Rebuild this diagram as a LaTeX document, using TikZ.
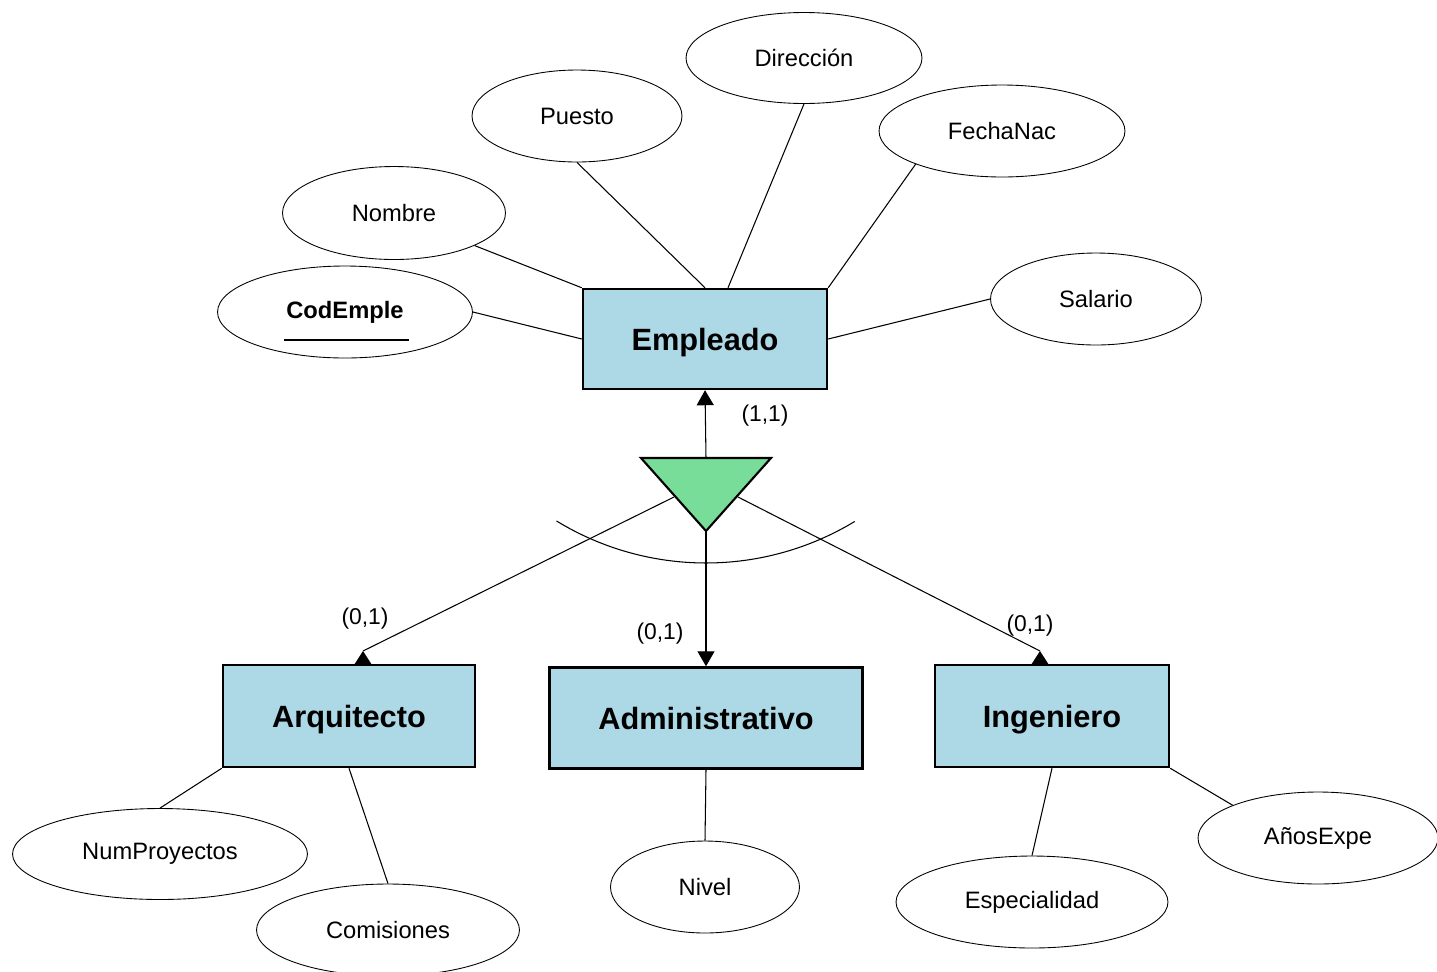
\documentclass[tikz,border=0pt]{standalone}
\usepackage{fontspec}
\setmainfont{Liberation Sans}
\usetikzlibrary{shapes.geometric,arrows.meta}
\definecolor{entfill}{RGB}{173,216,230}
\definecolor{isafill}{RGB}{119,221,153}
\tikzset{
  attr/.style={draw,ellipse,line width=0.5pt,inner sep=0pt,font=\fontsize{13.5}{15}\selectfont},
  ent/.style={draw,rectangle,line width=1.4pt,fill=entfill,inner sep=0pt,text height=12.8pt,text depth=0pt,font=\fontsize{17.5}{20}\selectfont\bfseries},
  card/.style={font=\fontsize{13}{15}\selectfont,inner sep=0pt},
  conn/.style={line width=0.6pt},
  tip/.style={-{Triangle[length=0.3cm,width=0.34cm]}}
}
\begin{document}
\begin{tikzpicture}[x=0.02cm,y=-0.02cm]
\useasboundingbox (0,0) rectangle (1437,971);
% entities
\node[ent,minimum width=4.88cm,minimum height=2.00cm] (emp) at (705,339) {Empleado};
\node[ent,minimum width=5.04cm,minimum height=2.04cm] (arq) at (349,716) {Arquitecto};
\node[ent,minimum width=6.26cm,minimum height=2.02cm] (adm) at (706,718) {Administrativo};
\node[ent,minimum width=4.68cm,minimum height=2.04cm] (ing) at (1052,716) {Ingeniero};
% attributes
\node[attr,minimum width=5.10cm,minimum height=1.84cm,font=\fontsize{13.5}{15}\selectfont\bfseries] (cod) at (345,312) {CodEmple};
\node[attr,minimum width=4.46cm,minimum height=1.86cm] (nom) at (394,213) {Nombre};
\node[attr,minimum width=4.20cm,minimum height=1.84cm] (pue) at (577,116) {Puesto};
\node[attr,minimum width=4.72cm,minimum height=1.82cm] (dir) at (804,58) {Dirección};
\node[attr,minimum width=4.92cm,minimum height=1.84cm] (fec) at (1002,131) {FechaNac};
\node[attr,minimum width=4.22cm,minimum height=1.84cm] (sal) at (1096,299) {Salario};
\node[attr,minimum width=5.90cm,minimum height=1.82cm] (num) at (160,854) {NumProyectos};
\node[attr,minimum width=5.26cm,minimum height=1.84cm] (com) at (388,930) {Comisiones};
\node[attr,minimum width=3.78cm,minimum height=1.84cm] (niv) at (705,887) {Nivel};
\node[attr,minimum width=5.44cm,minimum height=1.84cm] (esp) at (1032,902) {Especialidad};
\node[attr,minimum width=4.80cm,minimum height=1.84cm] (ano) at (1318,838) {AñosExpe};
% key underline
\draw[line width=0.6pt] (284,340) -- (409,340);
% attribute connectors
\draw[conn] (cod.east) -- (emp.west);
\draw[conn] (nom.-22) -- (emp.north west);
\draw[conn] (pue.south) -- (emp.north);
\draw[conn] (dir.south) -- ([xshift=0.46cm]emp.north);
\draw[conn] (fec.201) -- (emp.north east);
\draw[conn] (sal.west) -- (emp.east);
\draw[conn] (num.north) -- (arq.south west);
\draw[conn] (com.north) -- (arq.south);
\draw[conn] (niv.north) -- (adm.south);
\draw[conn] (esp.north) -- (ing.south);
\draw[conn] (ano.159) -- (ing.south east);
% ISA triangle
\coordinate (t1) at (641,458);
\coordinate (t2) at (771,458);
\coordinate (t3) at (706,531);
\coordinate (ttop) at (706,458);
\coordinate (tl) at (674,497);
\coordinate (tr) at (738,497);
\coordinate (ta) at (363,651);
\coordinate (ti) at (1040,651);
% arc
\draw[conn] (706,276) ++(121.4:287) arc[start angle=121.4,end angle=58.8,radius=287];
\draw[conn,tip] (ttop) -- (emp.south);
\draw[conn,tip] (t3) -- (adm.north);
\draw[conn] (tl) -- (ta);
\draw[conn] (tr) -- (ti);
\fill (ta) -- (354,665) -- (372,665) -- cycle;
\fill (ti) -- (1031,665) -- (1049,665) -- cycle;
\draw[line width=1.2pt,fill=isafill,line join=miter] (t1) -- (t2) -- (t3) -- cycle;
% cardinalities
\node[card] (c11) at (765,416) {(1,1)};
\node[card] (c01a) at (365,619) {(0,1)};
\node[card] (c01b) at (660,634) {(0,1)};
\node[card] (c01c) at (1030,626) {(0,1)};
\end{tikzpicture}
\end{document}
